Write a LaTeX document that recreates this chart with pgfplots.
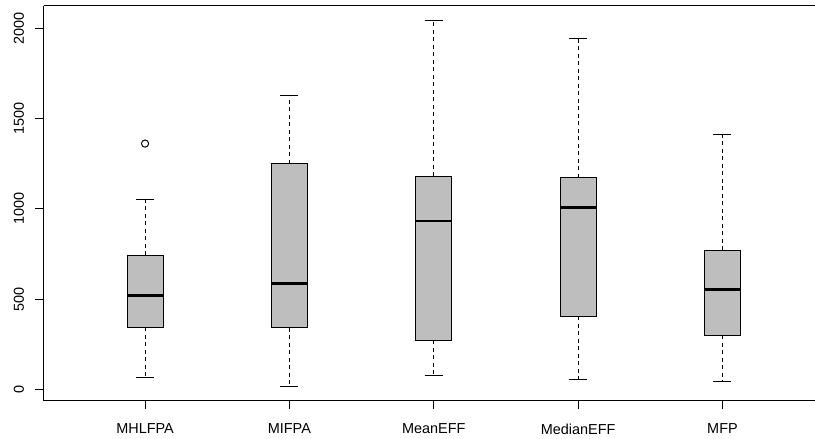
\documentclass[border=0pt]{standalone}
\usepackage{pgfplots}
\pgfplotsset{compat=1.18}
\usepackage{fontspec}
\setmainfont{Liberation Sans}
\definecolor{boxgray}{HTML}{BEBEBE}
\pgfplotsset{
  rboxst/.style={fill=boxgray, draw=black, line width=1bp, mark=none},
  rmed/.style={black, line width=2.6bp, mark=none},
  rwhisk/.style={black, line width=1bp, dash pattern=on 4bp off 3.5bp, mark=none},
  rstaple/.style={black, line width=1bp, mark=none},
}
\begin{document}
\begin{tikzpicture}
\path[use as bounding box] (-44bp,-38.3bp) rectangle (771bp,400.7bp);
\begin{axis}[
  at={(0,0)}, anchor=south west,
  scale only axis, width=771bp, height=394.7bp,
  xmin=0.3, xmax=5.641, ymin=-63, ymax=2123,
  axis x line*=box, axis y line*=left,
  axis line style={line width=1bp, black},
  xtick pos=left, ytick pos=left,
  tick align=outside,
  major tick length=8.5bp,
  every tick/.style={black, line width=1bp},
  xtick={1,2,3,4,5},
  xticklabels={MHLFPA,MIFPA,MeanEFF,MedianEFF,MFP},
  ytick={0,500,1000,1500,2000},
  scaled y ticks=false,
  /pgf/number format/1000 sep={},
  /pgf/number format/assume math mode=true,
  tick label style={font=\fontsize{14.5}{17}\selectfont},
  xticklabel style={yshift=-11bp},
  yticklabel style={rotate=90, anchor=south, yshift=8bp},
  clip=false,
]
% ---- MHLFPA (x=1): LW 68, Q1 345, Med 520, Q3 743, UW 1051, outlier 1361
\addplot[rboxst] coordinates {(0.875,345) (1.125,345) (1.125,743) (0.875,743)} -- cycle;
\addplot[rmed] coordinates {(0.875,520) (1.125,520)};
\addplot[rwhisk] coordinates {(1,743) (1,1051)};
\addplot[rwhisk] coordinates {(1,345) (1,68)};
\addplot[rstaple] coordinates {(0.9375,1051) (1.0625,1051)};
\addplot[rstaple] coordinates {(0.9375,68) (1.0625,68)};
\addplot[only marks, mark=o, mark size=3.6bp, mark options={black, line width=1bp, solid}] coordinates {(1,1361)};
% ---- MIFPA (x=2): LW 18, Q1 341, Med 585, Q3 1249, UW 1629
\addplot[rboxst] coordinates {(1.875,341) (2.125,341) (2.125,1249) (1.875,1249)} -- cycle;
\addplot[rmed] coordinates {(1.875,585) (2.125,585)};
\addplot[rwhisk] coordinates {(2,1249) (2,1629)};
\addplot[rwhisk] coordinates {(2,341) (2,18)};
\addplot[rstaple] coordinates {(1.9375,1629) (2.0625,1629)};
\addplot[rstaple] coordinates {(1.9375,18) (2.0625,18)};
% ---- MeanEFF (x=3): LW 79, Q1 273, Med 933, Q3 1181, UW 2042
\addplot[rboxst] coordinates {(2.875,273) (3.125,273) (3.125,1181) (2.875,1181)} -- cycle;
\addplot[rmed] coordinates {(2.875,933) (3.125,933)};
\addplot[rwhisk] coordinates {(3,1181) (3,2042)};
\addplot[rwhisk] coordinates {(3,273) (3,79)};
\addplot[rstaple] coordinates {(2.9375,2042) (3.0625,2042)};
\addplot[rstaple] coordinates {(2.9375,79) (3.0625,79)};
% ---- MedianEFF (x=4): LW 52, Q1 406, Med 1007, Q3 1171, UW 1944
\addplot[rboxst] coordinates {(3.875,406) (4.125,406) (4.125,1171) (3.875,1171)} -- cycle;
\addplot[rmed] coordinates {(3.875,1007) (4.125,1007)};
\addplot[rwhisk] coordinates {(4,1171) (4,1944)};
\addplot[rwhisk] coordinates {(4,406) (4,52)};
\addplot[rstaple] coordinates {(3.9375,1944) (4.0625,1944)};
\addplot[rstaple] coordinates {(3.9375,52) (4.0625,52)};
% ---- MFP (x=5): LW 41, Q1 299, Med 552, Q3 769, UW 1413
\addplot[rboxst] coordinates {(4.875,299) (5.125,299) (5.125,769) (4.875,769)} -- cycle;
\addplot[rmed] coordinates {(4.875,552) (5.125,552)};
\addplot[rwhisk] coordinates {(5,769) (5,1413)};
\addplot[rwhisk] coordinates {(5,299) (5,41)};
\addplot[rstaple] coordinates {(4.9375,1413) (5.0625,1413)};
\addplot[rstaple] coordinates {(4.9375,41) (5.0625,41)};
\end{axis}
\end{tikzpicture}
\end{document}
